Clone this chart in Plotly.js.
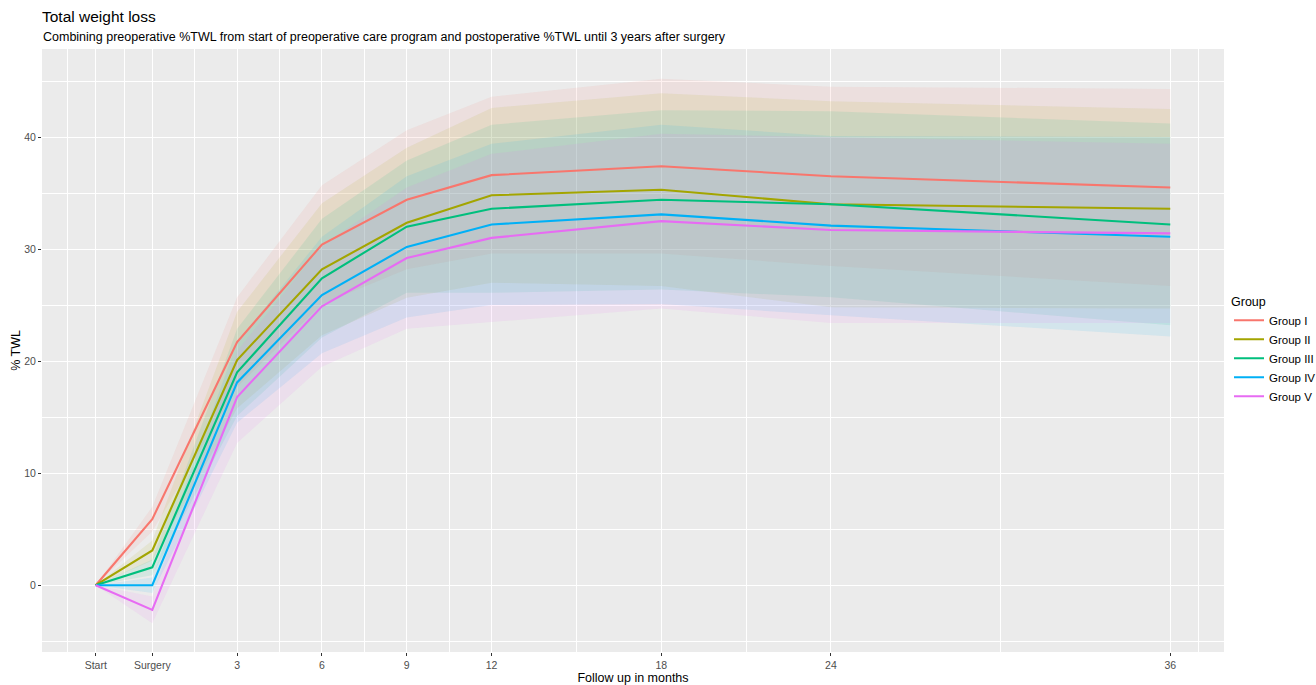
<!DOCTYPE html>
<html>
<head>
<meta charset="utf-8">
<script src="https://cdn.plot.ly/plotly-3.0.1.min.js"></script>
<style>
  html, body { margin: 0; padding: 0; background: #ffffff; }
  #chart { width: 1316px; height: 685px; }
</style>
</head>
<body>
<div id="chart"></div>
<script>
// ---- Data ----
const months = [-2, 0, 3, 6, 9, 12, 18, 24, 36];
const tickLabels = ['Start', 'Surgery', '3', '6', '9', '12', '18', '24', '36'];
const minorTicks = [-3, -1, 1.5, 4.5, 7.5, 10.5, 15, 21, 30, 37];
const yTicks = [0, 10, 20, 30, 40];
const yMinorTicks = [-5, 5, 15, 25, 35, 45];

const groupNames = ['Group I', 'Group II', 'Group III', 'Group IV', 'Group V'];
const groupColors = ['#F8766D', '#A3A500', '#00BF7D', '#00B0F6', '#E76BF3'];

// mean %TWL
const meanI   = [0, 5.9, 21.7, 30.4, 34.4, 36.6, 37.4, 36.5, 35.5];
const meanII  = [0, 3.1, 20.1, 28.2, 32.35, 34.8, 35.3, 34.0, 33.6];
const meanIII = [0, 1.6, 19.0, 27.4, 32.0, 33.6, 34.4, 34.0, 32.2];
const meanIV  = [0, 0.0, 18.1, 25.9, 30.2, 32.2, 33.1, 32.1, 31.1];
const meanV   = [0, -2.2, 16.8, 24.9, 29.2, 31.0, 32.5, 31.7, 31.4];

// ribbon half-widths
const sdI   = [0, 1.1, 4.0, 5.3, 6.2, 7.0, 7.8, 8.0, 8.8];
const sdII  = [0, 0.9, 4.3, 5.9, 6.7, 7.8, 8.6, 9.2, 8.9];
const sdIII = [0, 0.7, 3.9, 5.3, 5.9, 7.5, 8.0, 8.3, 9.0];
const sdIV  = [0, 0.7, 3.6, 5.2, 6.3, 7.2, 8.0, 8.0, 8.9];
const sdV   = [0, 1.2, 4.1, 5.4, 6.3, 7.5, 7.8, 8.3, 8.0];

const means = [meanI, meanII, meanIII, meanIV, meanV];
const sds = [sdI, sdII, sdIII, sdIV, sdV];

function hexToRgba(hex, a) {
  const r = parseInt(hex.slice(1, 3), 16);
  const g = parseInt(hex.slice(3, 5), 16);
  const b = parseInt(hex.slice(5, 7), 16);
  return 'rgba(' + r + ',' + g + ',' + b + ',' + a + ')';
}

const traces = [];
// ribbons first
for (let i = 0; i < groupNames.length; i++) {
  const upper = means[i].map((v, k) => v + sds[i][k]);
  const lower = means[i].map((v, k) => v - sds[i][k]);
  traces.push({
    x: months.concat(months.slice().reverse()),
    y: upper.concat(lower.slice().reverse()),
    type: 'scatter',
    mode: 'lines',
    fill: 'toself',
    fillcolor: hexToRgba(groupColors[i], 0.1),
    line: { width: 0, color: 'rgba(0,0,0,0)' },
    hoverinfo: 'skip',
    showlegend: false,
    legendgroup: groupNames[i]
  });
}
// lines on top
for (let i = 0; i < groupNames.length; i++) {
  traces.push({
    x: months,
    y: means[i],
    type: 'scatter',
    mode: 'lines',
    name: groupNames[i],
    legendgroup: groupNames[i],
    line: { color: groupColors[i], width: 2.1 },
    hoverinfo: 'x+y+name'
  });
}

const fontFam = 'Liberation Sans, Arial, sans-serif';

const layout = {
  width: 1316,
  height: 685,
  paper_bgcolor: '#ffffff',
  plot_bgcolor: '#EBEBEB',
  margin: { l: 42, r: 92, t: 49, b: 33, autoexpand: false },
  font: { family: fontFam, color: '#000000' },
  title: {
    text: 'Total weight loss',
    font: { family: fontFam, size: 15.5, color: '#000000' },
    xref: 'container', x: 42 / 1316, xanchor: 'left',
    yref: 'container', y: 1 - 17 / 685, yanchor: 'middle'
  },
  annotations: [{
    text: 'Combining preoperative %TWL from start of preoperative care program and postoperative %TWL until 3 years after surgery',
    xref: 'paper', yref: 'paper',
    x: -1 / 1182, y: 1 + (49 - 37) / 603,
    xanchor: 'left', yanchor: 'middle',
    showarrow: false,
    font: { family: fontFam, size: 12.5, color: '#000000' }
  }],
  xaxis: {
    range: [-3.9, 37.9],
    tickmode: 'array',
    tickvals: months,
    ticktext: tickLabels,
    ticks: 'outside',
    ticklen: 3,
    tickwidth: 1,
    tickcolor: '#333333',
    tickfont: { family: fontFam, size: 10.5, color: '#4D4D4D' },
    showgrid: true,
    gridcolor: '#FFFFFF',
    gridwidth: 1.1,
    zeroline: false,
    showline: false,
    minor: { tickmode: 'array', tickvals: minorTicks, showgrid: true, gridcolor: '#FFFFFF', gridwidth: 0.55, ticklen: 0 },
    title: { text: 'Follow up in months', font: { family: fontFam, size: 12.5, color: '#000000' }, standoff: 2 }
  },
  yaxis: {
    range: [-5.96, 47.86],
    tickmode: 'array',
    tickvals: yTicks,
    ticktext: yTicks.map(String),
    ticks: 'outside',
    ticklen: 3,
    tickwidth: 1,
    tickcolor: '#333333',
    tickfont: { family: fontFam, size: 10.5, color: '#4D4D4D' },
    showgrid: true,
    gridcolor: '#FFFFFF',
    gridwidth: 1.1,
    zeroline: false,
    showline: false,
    minor: { tickmode: 'array', tickvals: yMinorTicks, showgrid: true, gridcolor: '#FFFFFF', gridwidth: 0.55, ticklen: 0 },
    title: { text: '% TWL', font: { family: fontFam, size: 12.5, color: '#000000' }, standoff: 0 }
  },
  legend: {
    xref: 'container', yref: 'paper',
    x: 1229 / 1316, xanchor: 'left',
    y: 0.5, yanchor: 'middle',
    bgcolor: 'rgba(0,0,0,0)',
    font: { family: fontFam, size: 11.5, color: '#000000' },
    title: { text: 'Group', font: { family: fontFam, size: 12.5, color: '#000000' } },
    itemwidth: 30,
    tracegroupgap: 0
  },
  hovermode: 'closest'
};

Plotly.newPlot('chart', traces, layout, { displayModeBar: false, responsive: false });
</script>
</body>
</html>
